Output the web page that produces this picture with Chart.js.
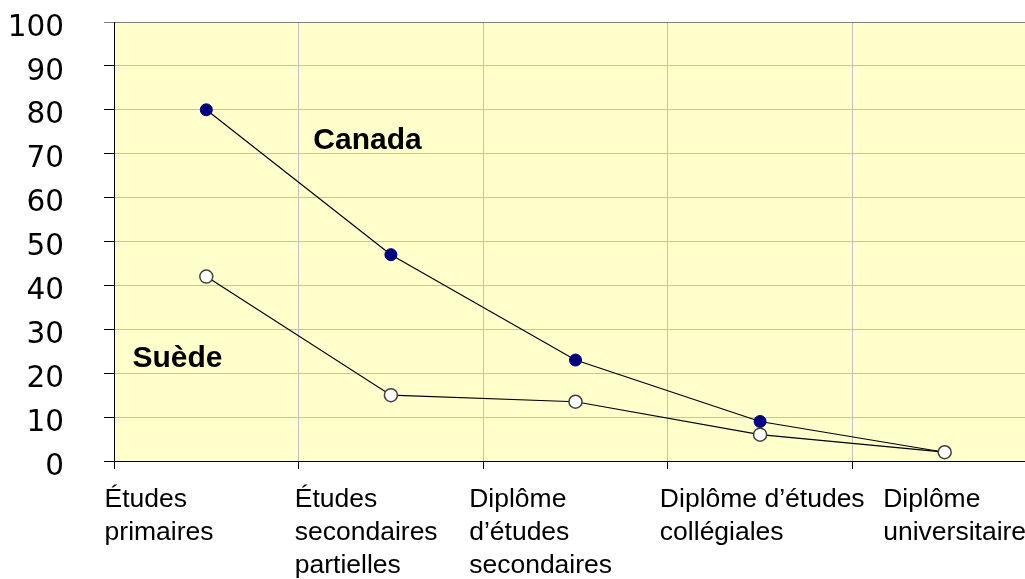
<!DOCTYPE html>
<html lang="fr">
<head>
<meta charset="utf-8">
<title>Canada et Suède selon le niveau de scolarité</title>
<script src="https://cdn.jsdelivr.net/npm/chart.js@4.4.1/dist/chart.umd.min.js"></script>
<style>
  html, body { margin: 0; padding: 0; background: #ffffff; overflow: hidden; }
  #wrap { width: 1025px; height: 579px; overflow: hidden; }
  canvas { display: block; }
</style>
</head>
<body>
<div id="wrap"><canvas id="chart" width="1045" height="579"></canvas></div>
<script>
// Niveaux de scolarité (axe horizontal)
const categories = [
  ["Études", "primaires"],
  ["Études", "secondaires", "partielles"],
  ["Diplôme", "d\u2019études", "secondaires"],
  ["Diplôme d\u2019études", "collégiales"],
  ["Diplôme", "universitaire"]
];

// Valeurs par pays
const canadaValues = [80, 47, 23, 9, 2];
const suedeValues = [42, 15, 13.5, 6, 2];

// Graduations de l'axe vertical
const yTicks = [0, 10, 20, 30, 40, 50, 60, 70, 80, 90, 100];

// Fond jaune pâle de la zone de tracé
const plotBackground = {
  id: 'plotBackground',
  beforeDraw(chart) {
    const { ctx, chartArea: a } = chart;
    ctx.save();
    ctx.fillStyle = '#FFFFCC';
    ctx.fillRect(a.left, a.top, a.right - a.left, a.bottom - a.top);
    ctx.restore();
  }
};

// Noms des séries écrits dans la zone de tracé
const seriesNames = {
  id: 'seriesNames',
  afterDatasetsDraw(chart, args, opts) {
    const { ctx, scales: { x, y } } = chart;
    ctx.save();
    ctx.font = 'bold 30px "Liberation Sans", Arial, sans-serif';
    ctx.fillStyle = '#000000';
    ctx.textAlign = 'left';
    ctx.textBaseline = 'alphabetic';
    opts.items.forEach(item => {
      ctx.fillText(item.text, x.getPixelForValue(item.at[0]), y.getPixelForValue(item.at[1]));
    });
    ctx.restore();
  }
};

new Chart(document.getElementById('chart'), {
  type: 'line',
  data: {
    labels: categories,
    datasets: [
      {
        label: 'Canada',
        data: canadaValues,
        order: 2,
        borderColor: '#000000',
        borderWidth: 1.2,
        pointRadius: 6,
        pointBackgroundColor: '#000080',
        pointBorderColor: '#000080',
        pointBorderWidth: 1,
        tension: 0,
        fill: false
      },
      {
        label: 'Suède',
        data: suedeValues,
        order: 1,
        borderColor: '#000000',
        borderWidth: 1.2,
        pointRadius: 6.5,
        pointBackgroundColor: '#FFFFFF',
        pointBorderColor: '#404040',
        pointBorderWidth: 1.5,
        tension: 0,
        fill: false
      }
    ]
  },
  options: {
    responsive: false,
    animation: false,
    events: [],
    layout: { padding: { top: 22, left: 0, right: 7, bottom: 0 } },
    plugins: {
      legend: { display: false },
      tooltip: { enabled: false },
      seriesNames: {
        items: [
          { text: 'Canada', at: [0.58, 71] },
          { text: 'Suède', at: [-0.4, 21.4] }
        ]
      }
    },
    scales: {
      // Axe des catégories : quadrillage vertical et graduations
      x: {
        type: 'category',
        weight: 0,
        offset: true,
        grid: {
          offset: true,
          color: '#C0C0C0',
          lineWidth: 1,
          tickColor: '#000000',
          tickLength: 8,
          drawTicks: true
        },
        border: { color: '#000000', width: 1 },
        ticks: { display: false },
        afterFit(scale) {
          scale.height = 8;
          scale.paddingLeft = 0;
          scale.paddingRight = 0;
        }
      },
      // Libellés des catégories, alignés à gauche sous chaque colonne
      xLabels: {
        type: 'linear',
        position: 'bottom',
        weight: 1,
        min: -0.5,
        max: 4.5,
        afterBuildTicks(scale) {
          scale.ticks = [-0.551, 0.479, 1.424, 2.457, 3.667].map(v => ({ value: v }));
        },
        grid: { display: false, drawTicks: false },
        border: { display: false },
        ticks: {
          callback: (value, index) => categories[index],
          align: 'start',
          padding: 14,
          maxRotation: 0,
          autoSkip: false,
          color: '#000000',
          font: { family: '"Liberation Sans", Arial, sans-serif', size: 26.5, lineHeight: 1.25 }
        },
        afterFit(scale) {
          scale.height = 110;
          scale.paddingLeft = 0;
          scale.paddingRight = 0;
        }
      },
      y: {
        min: 0,
        max: 100,
        afterBuildTicks(scale) {
          scale.ticks = yTicks.map(v => ({ value: v }));
        },
        grid: {
          color: ctx => (ctx.tick && ctx.tick.value === 100 ? '#808080' : '#C0C0C0'),
          tickColor: ctx => (ctx.tick && ctx.tick.value === 100 ? '#808080' : '#000000'),
          lineWidth: 1,
          tickLength: 10
        },
        border: { color: '#000000', width: 1 },
        ticks: {
          padding: 40,
          labelOffset: 6,
          color: '#000000',
          font: { family: '"DejaVu Sans", Verdana, sans-serif', size: 29.5 }
        },
        afterFit(scale) {
          scale.width = 114;
          scale.paddingTop = 0;
          scale.paddingBottom = 0;
        }
      }
    }
  },
  plugins: [plotBackground, seriesNames]
});
</script>
</body>
</html>
